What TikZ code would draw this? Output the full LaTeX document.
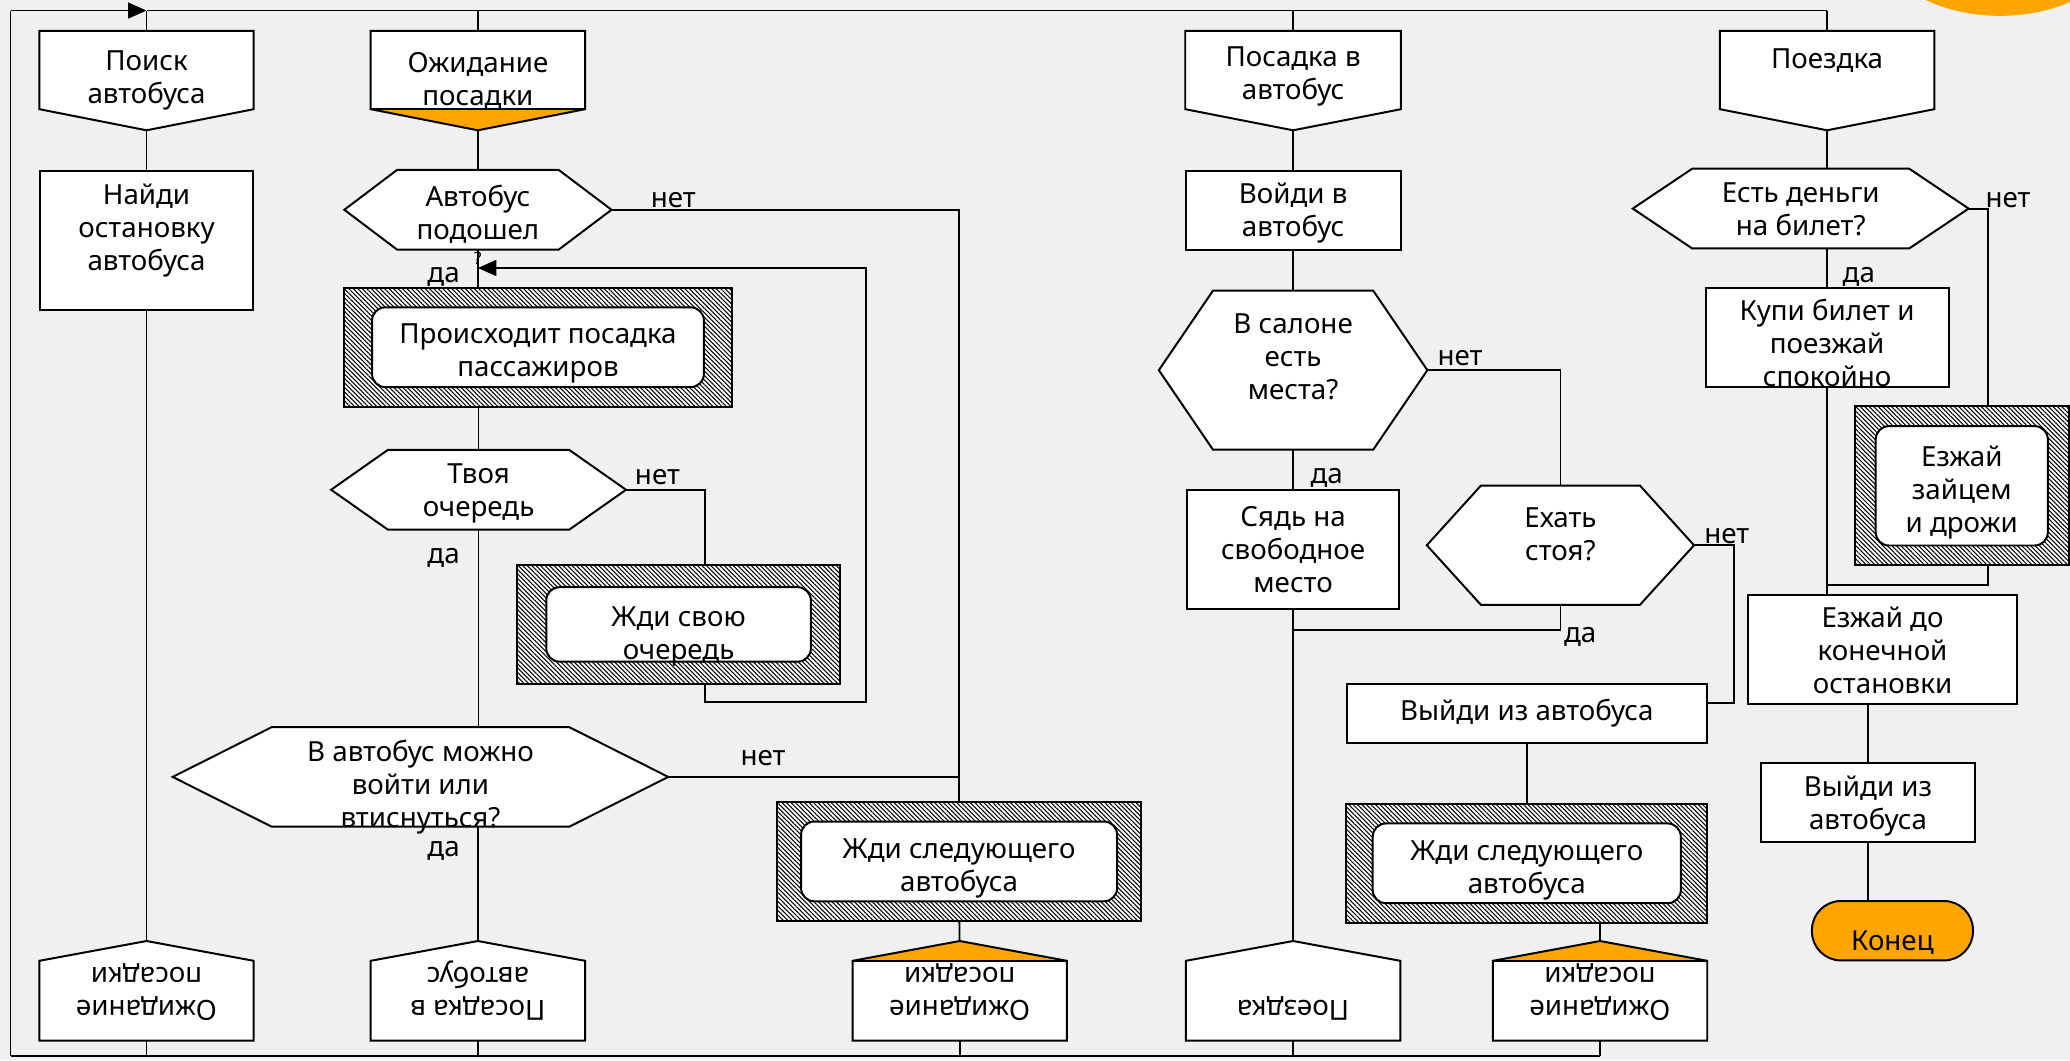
\documentclass[tikz,border=0pt]{standalone}
\usepackage{fontspec}
\setmainfont{Noto Sans}
\usepackage{graphicx}
\usetikzlibrary{arrows.meta,patterns.meta,positioning}

\definecolor{slide}{HTML}{F0F0F0}
\definecolor{amber}{HTML}{FFA500}

\pgfdeclarelayer{back}
\pgfdeclarelayer{shape}
\pgfsetlayers{back,shape,main}

\tikzset{
    %Define standard arrow tip
    >={Triangle[length=14pt,width=12pt]},
    %Define style for the text of all blocks
    block/.style={
           inner sep=0pt,
           align=center,
           font=\fontsize{21}{25}\selectfont},
    %Define style for plain boxes
    action/.style={
           block, rectangle,
           draw=black, line width=1.5pt,
           fill=white},
    %Define style for blocks whose outline is drawn by the macros below
    ghost/.style={
           block, rectangle},
    terminal/.style={
           block, rectangle,
           rounded corners=22pt,
           draw=black, line width=1.5pt,
           fill=amber},
    answer/.style={
           anchor=base, inner sep=0pt,
           font=\fontsize{21}{25}\selectfont},
    % Define line styles
    link/.style={line width=1.4pt},
    shapeline/.style={draw=black, line width=1.5pt}
}

% hexagon of a question
\newcommand{\drakonhex}[2]{%
  \begin{pgfonlayer}{shape}
  \draw[shapeline,fill=white] (#1.west) -- ([xshift=#2]#1.north west) -- ([xshift=-#2]#1.north east)
     -- (#1.east) -- ([xshift=-#2]#1.south east) -- ([xshift=#2]#1.south west) -- cycle;
  \end{pgfonlayer}}

% header of a branch, with a V at its foot
\newcommand{\drakonhead}[3]{%
  \begin{pgfonlayer}{shape}
  \fill[white] (#1.north west) rectangle ([yshift=16pt]#1.south east);
  \fill[#2] ([yshift=16pt]#1.south west) -- (#1.south) -- ([yshift=16pt]#1.south east) -- cycle;
  \draw[shapeline,draw=#3] ([yshift=16pt]#1.south west) -- ([yshift=16pt]#1.south east);
  \draw[shapeline] (#1.north west) -- (#1.north east) -- ([yshift=16pt]#1.south east)
     -- (#1.south) -- ([yshift=16pt]#1.south west) -- cycle;
  \end{pgfonlayer}}

% address at the foot of a branch, with a roof on top
\newcommand{\drakonaddr}[3]{%
  \begin{pgfonlayer}{shape}
  \fill[white] ([yshift=-15pt]#1.north west) rectangle (#1.south east);
  \fill[#2] ([yshift=-15pt]#1.north west) -- (#1.north) -- ([yshift=-15pt]#1.north east) -- cycle;
  \draw[shapeline,draw=#3] ([yshift=-15pt]#1.north west) -- ([yshift=-15pt]#1.north east);
  \draw[shapeline] (#1.south west) -- ([yshift=-15pt]#1.north west) -- (#1.north)
     -- ([yshift=-15pt]#1.north east) -- (#1.south east) -- cycle;
  \end{pgfonlayer}}

% hatched box with a rounded box inside
\newcommand{\drakonwait}[3]{%
  \begin{pgfonlayer}{shape}
  \fill[white] (#1.north west) rectangle (#1.south east);
  \fill[pattern={Lines[angle=-45,distance=2.4pt,line width=.8pt]}] (#1.north west) rectangle (#1.south east);
  \draw[shapeline] (#1.north west) rectangle (#1.south east);
  \draw[shapeline,fill=white,rounded corners=10pt] ([xshift=#2,yshift=-#3]#1.north west)
     rectangle ([xshift=-#2,yshift=#3]#1.south east);
  \end{pgfonlayer}}

% rows of text, raised by #1
\newcommand{\txtrows}[2]{\raisebox{#1}[\height][\depth]{\begin{tabular}{@{}c@{}}#2\end{tabular}}}
\newcommand{\upside}[1]{\rotatebox{180}{\begin{tabular}{@{}c@{}}#1\end{tabular}}}

\begin{document}
\begin{tikzpicture}[x=1pt,y=-1pt]
\useasboundingbox (0,0) rectangle (1568,803);
\begin{pgfonlayer}{back}
\fill[slide] (0,0) rectangle (1568,803);
\begin{scope}
\clip (0,0) rectangle (1568,803);
\fill[amber] (1515,-50) ellipse [x radius=95pt, y radius=62pt];
\end{scope}
\end{pgfonlayer}

\coordinate (nw) at (8,8);
\coordinate (sw) at (8,800);

% column 1
\node[ghost, minimum width=162, minimum height=75] (search) at (111,61) {Поиск\\автобуса};
\node[action, minimum width=162, minimum height=105, below=30pt of search] (find) {\txtrows{7pt}{Найди\\остановку\\автобуса}};
\node[ghost, minimum width=162, minimum height=75] (wait0) at (111,750.5) {\upside{Ожидание\\посадки}};

% column 2
\node[ghost, minimum width=162, minimum height=75] (waiting) at (362,61) {Ожидание\\посадки};
\node[ghost, minimum width=202, minimum height=60, below=30pt of waiting] (came) {\txtrows{-5pt}{Автобус\\подошел}};
\node[ghost, minimum width=293, minimum height=90] (boarding) at (407.5,263) {\txtrows{-5pt}{Происходит посадка\\пассажиров}};
\node[ghost, minimum width=223, minimum height=60] (turn) at (362.5,371) {\txtrows{-3pt}{Твоя\\очередь}};
\node[ghost, minimum width=244, minimum height=90] (queue) at (514,473) {\txtrows{-9pt}{Жди свою\\очередь}};
\node[ghost, minimum width=375, minimum height=75] (squeeze) at (318.5,588.5) {\txtrows{-8pt}{В автобус можно\\войти или\\втиснуться?}};
\node[ghost, minimum width=162, minimum height=75] (wait1) at (362,750.5) {\upside{Посадка в\\автобус}};

% column 3
\node[ghost, minimum width=275, minimum height=90] (next1) at (726.5,652.5) {\txtrows{-5pt}{Жди следующего\\автобуса}};
\node[ghost, minimum width=162, minimum height=75] (wait2) at (727,750.5) {\upside{Ожидание\\посадки}};

% column 4
\node[ghost, minimum width=163, minimum height=75] (board) at (979.5,61) {\txtrows{3pt}{Посадка в\\автобус}};
\node[action, minimum width=163, minimum height=60, below=30pt of board] (enter) {\txtrows{-2pt}{Войди в\\автобус}};
\node[ghost, minimum width=203, minimum height=120, below=30pt of enter] (seats) {\txtrows{8pt}{В салоне\\есть\\места?}};
\node[action, minimum width=161, minimum height=90, below=30pt of seats] (sit) {Сядь на\\свободное\\место};
\node[ghost, minimum width=162, minimum height=75] (wait3) at (979.5,750.5) {\upside{Поездка\\\strut}};

% column 5
\node[ghost, minimum width=202, minimum height=90] (stand) at (1182,413) {\txtrows{6pt}{Ехать\\стоя?}};
\node[action, minimum width=273, minimum height=45] (leave) at (1156.5,540.5) {Выйди из автобуса};
\node[ghost, minimum width=273, minimum height=90, below=45pt of leave] (next2) {\txtrows{-5pt}{Жди следующего\\автобуса}};
\node[ghost, minimum width=162, minimum height=75] (wait4) at (1212,750.5) {\upside{Ожидание\\посадки}};

% column 6
\node[ghost, minimum width=162, minimum height=75] (trip) at (1384,61) {Поездка\\\strut};
\node[ghost, minimum width=254, minimum height=60] (money) at (1364,158) {\txtrows{-3pt}{Есть деньги\\на билет?}};
\node[action, minimum width=184, minimum height=75] (ticket) at (1384,255.5) {\txtrows{-7pt}{Купи билет и\\поезжай\\спокойно}};
\node[ghost, minimum width=162, minimum height=120] (hare) at (1486,368) {\txtrows{-5pt}{Езжай\\зайцем\\и дрожи}};
\node[action, minimum width=204, minimum height=82] (ride) at (1426,492) {\txtrows{-3pt}{Езжай до\\конечной\\остановки}};
\node[action, minimum width=162, minimum height=60] (exit) at (1415,608) {\txtrows{-3pt}{Выйди из\\автобуса}};
\node[terminal, minimum width=122, minimum height=45, text height=33pt] (stop) at (1433.5,705) {Конец};

% outlines
\drakonhead{search}{white}{white}
\drakonhead{waiting}{amber}{black}
\drakonhead{board}{white}{white}
\drakonhead{trip}{white}{white}
\drakonhex{came}{40pt}
\drakonhex{turn}{43pt}
\drakonhex{squeeze}{75pt}
\drakonhex{seats}{41pt}
\drakonhex{stand}{41pt}
\drakonhex{money}{45pt}
\drakonwait{boarding}{21pt}{15pt}
\drakonwait{queue}{22pt}{17pt}
\drakonwait{next1}{18pt}{15pt}
\drakonwait{next2}{20pt}{15pt}
\drakonwait{hare}{16pt}{15pt}
\drakonaddr{wait0}{white}{white}
\drakonaddr{wait1}{white}{white}
\drakonaddr{wait2}{amber}{black}
\drakonaddr{wait3}{white}{white}
\drakonaddr{wait4}{amber}{black}

% answers
\node[answer] (no1) at (510,157) {нет};
\node[answer] (yes1) at (336,214) {да};
\node[inner sep=0pt, font=\fontsize{13}{15}\selectfont] (mark) at (362,196) {?};
\node[answer] (no2) at (498,367) {нет};
\node[answer] (yes2) at (336,427) {да};
\node[answer] (no3) at (578,580) {нет};
\node[answer] (yes3) at (336,649) {да};
\node[answer] (no4) at (1106,277) {нет};
\node[answer] (yes4) at (1005,366) {да};
\node[answer] (no5) at (1308,412) {нет};
\node[answer] (yes5) at (1197,487) {да};
\node[answer] (no6) at (1521,157) {нет};
\node[answer] (yes6) at (1408,214) {да};

% frame
\draw[link] (sw) -- (nw);
\draw[link,->] (nw) -- (search.north |- nw);
\draw[link] (search.north |- nw) -- (trip.north |- nw);
\draw[link] (sw) -- (wait4.south |- sw);
\foreach \n in {search,waiting,board,trip}
    \draw[link] (\n.north) -- (\n.north |- nw);
\foreach \n in {wait0,wait1,wait2,wait3,wait4}
    \draw[link] (\n.south) -- (\n.south |- sw);

% column 1
\draw[link] (search) -- (find);
\draw[link] (find) -- (wait0);

% column 2 and 3
\draw[link] (waiting) -- (came);
\draw[link] (came.south) -- (came.south |- boarding.north);
\draw[link] (turn.north |- boarding.south) -- (turn.north);
\draw[link] (turn.south) -- (turn.south |- squeeze.north);
\draw[link] (wait1.north |- squeeze.south) -- (wait1.north);
\draw[link] (came.east) -- (came.east -| next1.north) -- (next1.north);
\draw[link] (squeeze.east) -- (squeeze.east -| next1.north);
\draw[link] (next1) -- (wait2);
\coordinate (loop) at (534,532);
\coordinate (back) at (656,203);
\draw[link] (turn.east) -- (turn.east -| loop) -- (loop |- queue.north);
\draw[link,->] (loop |- queue.south) -- (loop) -- (loop -| back) -- (back) -- (came.south |- back);

% column 4 and 5
\draw[link] (board) -- (enter);
\draw[link] (enter) -- (seats);
\draw[link] (seats) -- (sit);
\draw[link] (sit) -- (wait3);
\draw[link] (seats.east) -- (seats.east -| stand.north) -- (stand.north);
\draw[link] (stand.south) |- ([yshift=-15pt]sit.south);
\draw[link] (stand.east) -- ++(30,0) |- ([yshift=8pt]leave.east);
\draw[link] (leave) -- (next2);
\draw[link] (wait4.north |- next2.south) -- (wait4.north);

% column 6
\coordinate (merge) at (1384,443);
\coordinate (harex) at (1506,0);
\draw[link] (trip.south) -- (trip.south |- money.north);
\draw[link] (ticket.north |- money.south) -- (ticket.north);
\draw[link] (ticket.south) -- (ticket.south |- ride.north);
\draw[link] (money.east) -- (money.east -| harex) -- (harex |- hare.north);
\draw[link] (harex |- hare.south) |- (merge);
\draw[link] (exit.north |- ride.south) -- (exit.north);
\draw[link] (exit.south) -- (exit.south |- stop.north);
\end{tikzpicture}
\end{document}
